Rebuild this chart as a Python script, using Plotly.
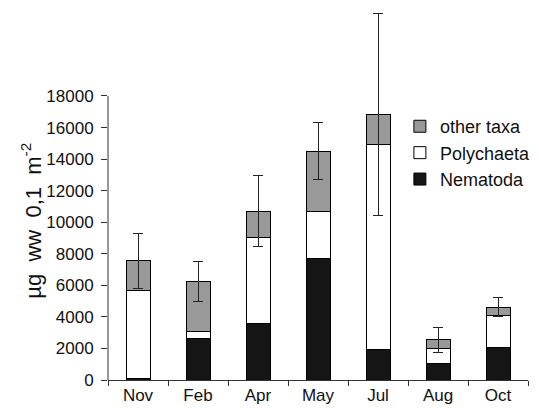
import plotly.graph_objects as go

months = ["Nov", "Feb", "Apr", "May", "Jul", "Aug", "Oct"]
nematoda = [100, 2600, 3550, 7700, 1950, 1050, 2050]
polychaeta = [5600, 450, 5500, 3000, 13000, 950, 2050]
other_taxa = [1850, 3200, 1650, 3800, 1900, 550, 500]
total_err = [1750, 1250, 2250, 1800, 6400, 800, 600]

yticks = [0, 2000, 4000, 6000, 8000, 10000, 12000, 14000, 16000, 18000]

font = "Liberation Sans, Arial, Helvetica, sans-serif"
fig = go.Figure()
fig.add_bar(x=months, y=nematoda, name="Nematoda", legendgroup="n",
            marker=dict(color="#151515", line=dict(color="#000", width=1)))
fig.add_bar(x=months, y=polychaeta, name="Polychaeta", legendgroup="p",
            marker=dict(color="#ffffff", line=dict(color="#000", width=1)))
fig.add_bar(x=months, y=other_taxa, name="other taxa", legendgroup="o",
            marker=dict(color="#999999", line=dict(color="#000", width=1)),
            error_y=dict(type="data", array=total_err, color="#222", thickness=1, width=5))

fig.update_layout(
    width=539, height=408, barmode="stack", bargap=0.6,
    margin=dict(l=108, r=11, t=10, b=28, autoexpand=False),
    paper_bgcolor="white", plot_bgcolor="white",
    font=dict(family=font, size=17, color="#111"),
    showlegend=True,
    legend=dict(x=0.695, y=0.735, xanchor="left", yanchor="top", traceorder="reversed",
                tracegroupgap=4, font=dict(size=18), bgcolor="rgba(0,0,0,0)",
                itemwidth=30),
    xaxis=dict(type="category", showline=True, linecolor="#333", linewidth=1,
               ticks="outside", tickson="boundaries", ticklen=5, tickcolor="#333",
               tickfont=dict(size=17), automargin=False),
    yaxis=dict(range=[0, 23450], tickvals=yticks, tickformat="d", showline=False,
               showgrid=False, zeroline=False, ticks="outside", ticklen=6,
               tickcolor="#333", tickfont=dict(size=17), automargin=False,
               ticklabelstandoff=4),
)
fig.add_shape(type="line", xref="paper", yref="y", x0=0, x1=0, y0=0, y1=18000,
              line=dict(color="#333", width=1))
fig.add_annotation(text="µg\u00a0\u00a0ww\u00a0\u00a00,1\u00a0\u00a0m<sup>-2</sup>",
                   xref="paper", yref="y", x=-0.145, y=10100, xanchor="right",
                   yanchor="middle", textangle=-90, showarrow=False,
                   font=dict(size=22, family=font, color="#111"))
fig.write_html("out.html")
